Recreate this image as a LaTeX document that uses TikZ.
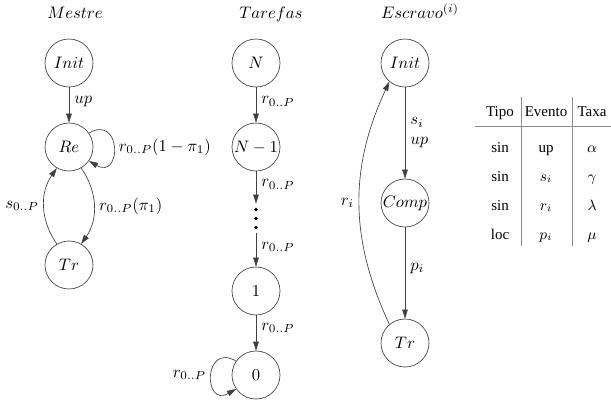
\documentclass[tikz,border=0pt]{standalone}
\usepackage{fontspec}
\newfontfamily\tabfont{Liberation Serif}
\usetikzlibrary{arrows.meta}

\begin{document}
\begin{tikzpicture}[
    x=0.6pt, y=0.6pt,
    estado/.style={draw=black!75, circle, minimum size=28.8pt, inner sep=0pt},
    seta/.style={draw=black!75, -{Triangle[length=5.5pt, width=3.4pt]}},
    rotulo/.style={inner sep=3pt},
    titulo/.style={anchor=base},
    cel/.style={font=\tabfont\fontsize{9}{11}\selectfont,
                text height=1.6ex, text depth=.45ex, inner sep=0pt},
    grade/.style={draw=black!45, line width=0.5pt},
]
\useasboundingbox (0,0) rectangle (611,-402);

% --- Mestre -----------------------------------------------------------
\node[titulo] (tMestre) at (75,-19) {$Mestre$};
\node[estado] (mInit) at (69,-63)  {$Init$};
\node[estado] (mRe)   at (69,-147) {$Re$};
\node[estado] (mTr)   at (69,-265) {$Tr$};

\draw[seta] (mInit) -- (mRe) node[rotulo, right, pos=.4] {$up$};
\draw[seta] (mRe.35) .. controls +(30:38) and +(-30:38) .. (mRe.-35)
    node[rotulo, right, midway] {$r_{0..P}(1-\pi_1)$};
\draw[seta] (mRe.-60) to[bend left=35] node[rotulo, right] {$r_{0..P}(\pi_1)$} (mTr.60);
\draw[seta] (mTr.120) to[bend left=35] node[rotulo, left] {$s_{0..P}$} (mRe.-120);

% --- Tarefas ----------------------------------------------------------
\node[titulo] (tTarefas) at (271,-19) {$Tarefas$};
\node[estado] (tN)  at (256,-63)  {$N$};
\node[estado] (tN1) at (256,-147) {$N-1$};
\node[inner sep=0pt, minimum width=4pt, minimum height=17.4pt] (tPontos) at (256,-218.5) {};
\foreach \d in {-9,0,9}
    \fill (tPontos) ++(0,\d) circle (1.1pt);
\node[estado] (t1) at (256,-291) {$1$};
\node[estado] (t0) at (256,-375) {$0$};

\draw[seta] (tN) -- (tN1) node[rotulo, right, pos=.4] {$r_{0..P}$};
\draw[seta] (tN1) -- (tPontos) node[rotulo, right, pos=.4] {$r_{0..P}$};
\draw[seta] (tPontos) -- (t1) node[rotulo, right, pos=.4] {$r_{0..P}$};
\draw[seta] (t1) -- (t0) node[rotulo, right, pos=.35] {$r_{0..P}$};
\draw[seta] (t0.145) .. controls +(150:38) and +(210:38) .. (t0.215)
    node[rotulo, left, midway] {$r_{0..P}$};

% --- Escravo ----------------------------------------------------------
\node[titulo] (tEscravo) at (420,-19) {$Escravo^{(i)}$};
\node[estado] (eInit) at (405,-63)  {$Init$};
\node[estado] (eComp) at (405,-203) {$Comp$};
\node[estado] (eTr)   at (405,-343) {$Tr$};

\draw[seta] (eInit) -- (eComp) node[rotulo, right, midway, align=left] {$s_i$\\$up$};
\draw[seta] (eComp) -- (eTr) node[rotulo, right, pos=.45] {$p_i$};
\draw[seta] (eTr.130) to[bend left=25] node[rotulo, left] {$r_i$} (eInit.-130);

% --- Tabela de eventos ------------------------------------------------
\node[cel] (hTipo)   at (500,-112) {Tipo};
\node[cel] (hEvento) at (546,-112) {Evento};
\node[cel] (hTaxa)   at (592,-112) {Taxa};
\foreach \y/\tipo/\ev/\tx [count=\k] in
    {148/sin/up/$\alpha$, 177/sin/$s_i$/$\gamma$,
     206/sin/$r_i$/$\lambda$, 235/loc/$p_i$/$\mu$} {
  \node[cel] (tipo\k)   at (500,-\y) {\tipo};
  \node[cel] (evento\k) at (546,-\y) {\ev};
  \node[cel] (taxa\k)   at (592,-\y) {\tx};
}
\draw[grade] (475,-126) -- (611,-126);
\draw[grade] (521,-97) -- (521,-246);
\draw[grade] (572,-97) -- (572,-246);

\end{tikzpicture}
\end{document}
